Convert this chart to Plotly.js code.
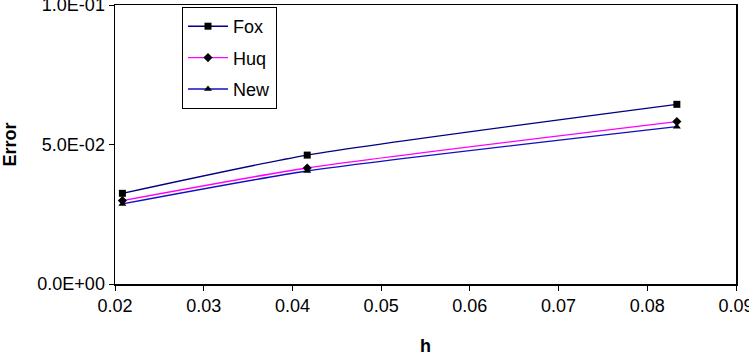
<!DOCTYPE html>
<html>
<head>
<meta charset="utf-8">
<script src="https://cdn.plot.ly/plotly-3.0.1.min.js"></script>
<style>html,body{margin:0;padding:0;background:#fff;}#chart{width:749px;height:356px;}</style>
</head>
<body>
<div id="chart"></div>
<script>
const h = [1/48, 1/24, 1/12];
const fox = [0.0325, 0.0462, 0.0644];
const huq = [0.0299, 0.0416, 0.0582];
const newVals = [0.0287, 0.0405, 0.0564];
const yTickVals = [0, 0.05, 0.1];
const yTickText = ['0.0E+00', '5.0E-02', '1.0E-01'];
const xTickVals = [0.02, 0.03, 0.04, 0.05, 0.06, 0.07, 0.08, 0.09];
const xTickText = ['0.02', '0.03', '0.04', '0.05', '0.06', '0.07', '0.08', '0.09'];

function tr(name, y, color, symbol, group) {
  return {
    x: h, y: y, name: name, type: 'scatter', mode: 'lines+markers',
    legendgroup: group,
    line: {color: color, width: 1.4, shape: 'spline', smoothing: 0.6},
    marker: {color: '#000', symbol: symbol, size: 7}
  };
}
const data = [
  tr('Fox', fox, '#000080', 'square', 'a'),
  tr('Huq', huq, '#FF00FF', 'diamond', 'b'),
  tr('New', newVals, '#1010C0', 'triangle-up', 'c')
];
const pw = 749 - 115 - 13, ph = 356 - 5 - 72;
const layout = {
  width: 749, height: 356,
  margin: {l: 115, r: 13, t: 5, b: 72},
  paper_bgcolor: '#fff', plot_bgcolor: '#fff',
  font: {family: 'Liberation Sans, Arial, sans-serif', size: 18, color: '#000'},
  showlegend: true,
  legend: {
    x: (182 - 115) / pw, y: 1 - (7 - 5) / ph, xanchor: 'left', yanchor: 'top',
    bordercolor: '#000', borderwidth: 1, bgcolor: '#fff',
    font: {size: 18}, tracegroupgap: 5, traceorder: 'grouped', itemwidth: 40
  },
  xaxis: {
    range: [0.02, 0.0900001], tickvals: xTickVals, ticktext: xTickText,
    showgrid: false, zeroline: false, showline: true, linecolor: '#000', linewidth: 1.5,
    mirror: true, ticks: 'outside', ticklen: 5, tickcolor: '#000',
    ticklabeloverflow: 'allow',
    title: {text: '<b>h</b>', font: {size: 18}, standoff: 24}
  },
  yaxis: {
    range: [0, 0.1], tickvals: yTickVals, ticktext: yTickText,
    showgrid: false, zeroline: false, showline: true, linecolor: '#000', linewidth: 1.5,
    mirror: true, ticks: 'outside', ticklen: 5, tickcolor: '#000',
    ticklabeloverflow: 'allow',
    title: {text: '<b>Error</b>', font: {size: 18}, standoff: 18}
  }
};
Plotly.newPlot('chart', data, layout, {displayModeBar: false, staticPlot: true});
</script>
</body>
</html>
